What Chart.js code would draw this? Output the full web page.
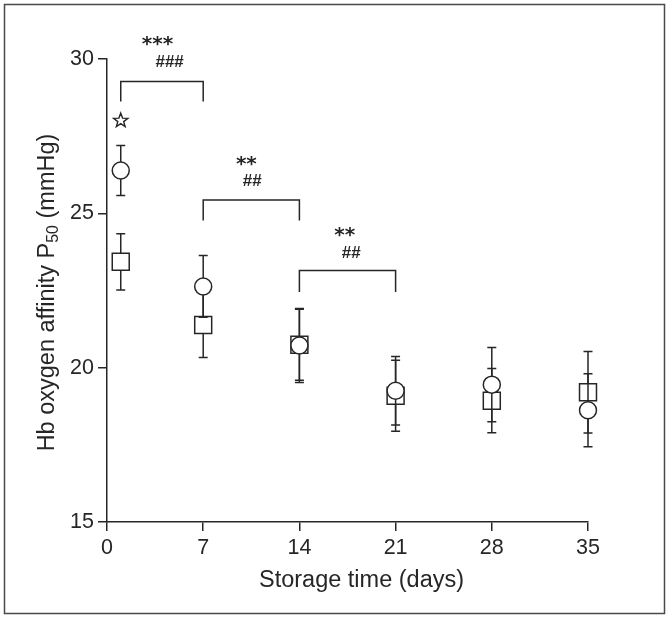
<!DOCTYPE html>
<html>
<head>
<meta charset="utf-8">
<script src="https://cdn.jsdelivr.net/npm/chart.js@4.4.1/dist/chart.umd.min.js"></script>
<style>
  html, body { margin: 0; padding: 0; background: #fff; }
  #wrap { width: 669px; height: 617px; }
</style>
</head>
<body>
<div id="wrap"><canvas id="p50Chart" width="669" height="617"></canvas></div>
<script>
// storage days and P50 values (mean, SD)
const days = [1, 7, 14, 21, 28, 35];
const circleMean = [26.39, 22.63, 20.72, 19.25, 19.45, 18.62];
const circleSd = [0.81, 1.0, 1.2, 1.11, 1.2, 1.18];
const squareMean = [23.43, 21.38, 20.74, 19.09, 18.93, 19.2];
const squareSd = [0.91, 1.05, 1.15, 1.15, 1.04, 1.32];

const xTicks = [0, 7, 14, 21, 28, 35];
const yTicks = [15, 20, 25, 30];

// significance brackets between storage days
const bracketFrom = [1, 7, 14];
const bracketTo = [7, 14, 21];
const bracketTop = [29.27, 25.43, 23.15];
const bracketFoot = [28.62, 24.77, 22.45];

const sigStars = ["***", "**", "**"];
const sigStarX = [3.67, 10.14, 17.3];
const sigStarY = [30.58, 26.71, 24.41];
const sigHash = ["###", "##", "##"];
const sigHashX = [4.54, 10.55, 17.76];
const sigHashY = [29.89, 26.03, 23.71];

const openStarDay = [1];
const openStarValue = [28.02];

const ink = "#262626";
const sans = "'Liberation Sans', Arial, sans-serif";
const markEdge = 8.5; // half size of the markers in px
const capHalf = 4.5;

function points(xs, ys) {
    return xs.map((x, i) => ({ x: x, y: ys[i] }));
}

const bracketSets = bracketFrom.map((from, i) => ({
    type: "line",
    data: [
        { x: from, y: bracketFoot[i] },
        { x: from, y: bracketTop[i] },
        { x: bracketTo[i], y: bracketTop[i] },
        { x: bracketTo[i], y: bracketFoot[i] }
    ],
    borderColor: ink,
    borderWidth: 1.5,
    pointRadius: 0,
    fill: false,
    tension: 0,
    clip: false,
    order: 3
}));

function openStar(c, cx, cy, outer, inner) {
    c.beginPath();
    for (let k = 0; k < 10; k++) {
        const r = k % 2 === 0 ? outer : inner;
        const a = -Math.PI / 2 + k * Math.PI / 5;
        const px = cx + r * Math.cos(a), py = cy + r * Math.sin(a);
        if (k === 0) c.moveTo(px, py); else c.lineTo(px, py);
    }
    c.closePath();
    c.stroke();
}

const extras = {
    id: "extras",
    beforeDraw(chart) {
        const c = chart.ctx;
        c.save();
        c.fillStyle = "#fff";
        c.fillRect(0, 0, chart.width, chart.height);
        c.strokeStyle = "#4a4a4a";
        c.lineWidth = 1.5;
        c.strokeRect(4.5, 4.5, 660, 609);
        c.restore();
    },
    afterDatasetDraw(chart, args) {
        const ds = chart.data.datasets[args.index];
        if (!ds.sd) return;
        const xs = chart.scales.x, ys = chart.scales.y, c = chart.ctx;
        c.save();
        c.strokeStyle = ink;
        c.lineWidth = 1.5;
        c.beginPath();
        ds.data.forEach((p, i) => {
            const px = xs.getPixelForValue(p.x);
            const py = ys.getPixelForValue(p.y);
            [p.y + ds.sd[i], p.y - ds.sd[i]].forEach(v => {
                const end = ys.getPixelForValue(v);
                if (Math.abs(end - py) <= markEdge) return;
                const dir = Math.sign(end - py);
                c.moveTo(px, py + dir * markEdge);
                c.lineTo(px, end);
                c.moveTo(px - capHalf, end);
                c.lineTo(px + capHalf, end);
            });
        });
        c.stroke();
        c.restore();
    },
    afterDraw(chart) {
        const xs = chart.scales.x, ys = chart.scales.y, c = chart.ctx;
        const area = chart.chartArea;
        c.save();
        c.fillStyle = ink;
        c.strokeStyle = ink;
        c.textAlign = "center";
        c.textBaseline = "middle";

        c.font = "bold 20px 'DejaVu Sans', sans-serif";
        sigStars.forEach((t, i) => c.fillText(t, xs.getPixelForValue(sigStarX[i]), ys.getPixelForValue(sigStarY[i]) + 4));
        c.font = "italic bold 17px " + sans;
        sigHash.forEach((t, i) => c.fillText(t, xs.getPixelForValue(sigHashX[i]), ys.getPixelForValue(sigHashY[i])));

        c.lineWidth = 1.4;
        c.lineJoin = "miter";
        openStarDay.forEach((d, i) => openStar(c, xs.getPixelForValue(d), ys.getPixelForValue(openStarValue[i]) + 0.5, 7.5, 3.1));

        // x axis title
        c.textBaseline = "alphabetic";
        c.font = "23.5px " + sans;
        c.fillText("Storage time (days)", (area.left + area.right) / 2 + 14, 587);

        // y axis title with subscript
        const main = "Hb oxygen affinity P", sub = "50", tail = " (mmHg)";
        const bigFont = "23.5px " + sans, smallFont = "16px " + sans;
        c.font = bigFont;
        const w1 = c.measureText(main).width, w3 = c.measureText(tail).width;
        c.font = smallFont;
        const w2 = c.measureText(sub).width;
        const total = w1 + w2 + w3;
        c.translate(54, (area.top + area.bottom) / 2 + 2);
        c.rotate(-Math.PI / 2);
        c.textAlign = "left";
        let x0 = -total / 2;
        c.font = bigFont;
        c.fillText(main, x0, 0);
        c.font = smallFont;
        c.fillText(sub, x0 + w1, 4);
        c.font = bigFont;
        c.fillText(tail, x0 + w1 + w2, 0);
        c.restore();
    }
};

const axisLook = {
    grid: { display: true, drawOnChartArea: false, drawTicks: true, tickLength: 9, color: ink, lineWidth: 1.5 },
    border: { display: true, color: ink, width: 1.5 }
};

new Chart(document.getElementById("p50Chart"), {
    type: "scatter",
    data: {
        datasets: [
            {
                label: "circle",
                data: points(days, circleMean),
                sd: circleSd,
                pointStyle: "circle",
                pointRadius: 8.5,
                pointHoverRadius: 8.5,
                pointBorderWidth: 1.5,
                borderColor: ink,
                backgroundColor: "#fff",
                clip: false,
                order: 0
            },
            {
                label: "square",
                data: points(days, squareMean),
                sd: squareSd,
                pointStyle: "rect",
                pointRadius: 12,
                pointHoverRadius: 12,
                pointBorderWidth: 1.5,
                borderColor: ink,
                backgroundColor: "#fff",
                clip: false,
                order: 1
            },
            ...bracketSets
        ]
    },
    options: {
        responsive: false,
        animation: false,
        events: [],
        layout: { padding: { left: 0, top: 59, right: 81, bottom: 0 } },
        plugins: { legend: { display: false }, tooltip: { enabled: false } },
        scales: {
            x: {
                type: "linear",
                min: 0,
                max: 35,
                afterBuildTicks: s => { s.ticks = xTicks.map(v => ({ value: v })); },
                afterFit: s => { s.height = 95; },
                ticks: { color: ink, padding: 4, font: { family: sans, size: 21.5 } },
                ...axisLook
            },
            y: {
                type: "linear",
                min: 15,
                max: 30,
                afterBuildTicks: s => { s.ticks = yTicks.map(v => ({ value: v })); },
                afterFit: s => { s.width = 107; },
                ticks: { color: ink, padding: 4, font: { family: sans, size: 21.5 } },
                ...axisLook
            }
        }
    },
    plugins: [extras]
});
</script>
</body>
</html>
